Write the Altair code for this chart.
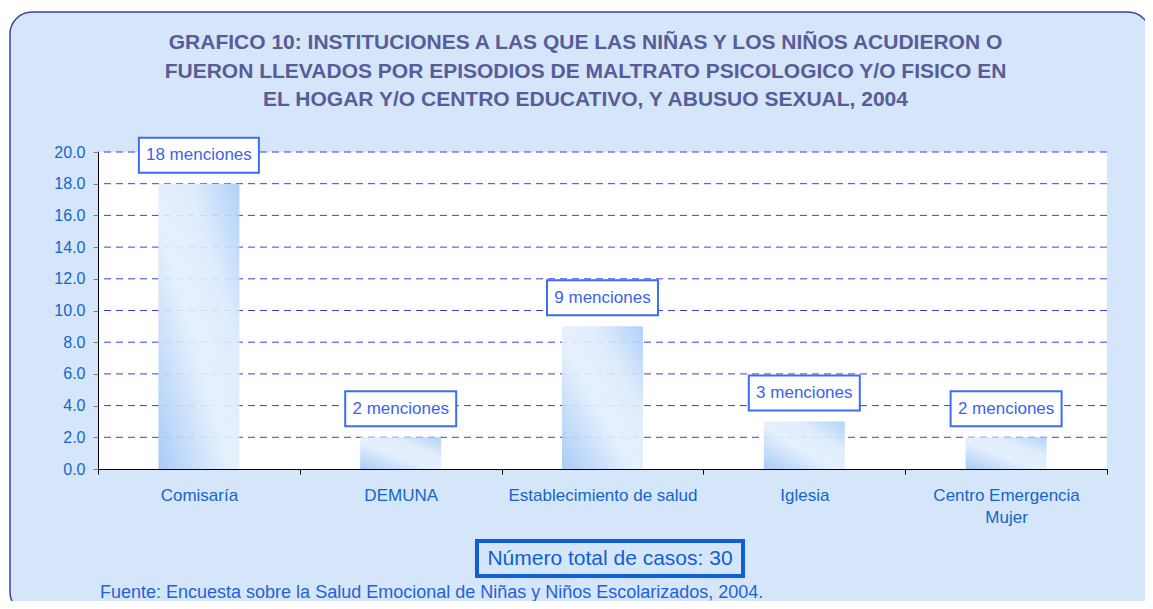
import altair as alt
import pandas as pd

categories = ["Comisaría", "DEMUNA", "Establecimiento de salud", "Iglesia", "Centro Emergencia Mujer"]
values = [18, 2, 9, 3, 2]
mentions = ["18 menciones", "2 menciones", "9 menciones", "3 menciones", "2 menciones"]
grid_ticks = [2, 4, 6, 8, 10, 12, 14, 16, 18, 20]
axis_ticks = [0, 2, 4, 6, 8, 10, 12, 14, 16, 18, 20]
title_lines = [
    "GRAFICO 10: INSTITUCIONES A LAS QUE LAS NIÑAS Y LOS NIÑOS ACUDIERON O",
    "FUERON LLEVADOS POR EPISODIOS DE MALTRATO PSICOLOGICO Y/O FISICO EN",
    "EL HOGAR Y/O CENTRO EDUCATIVO, Y ABUSUO SEXUAL, 2004",
]
total_text = "Número total de casos: 30"
source_text = "Fuente: Encuesta sobre la Salud Emocional de Niñas y Niños Escolarizados, 2004."

W, H = 1009, 317
FONT = "Liberation Sans"

df = pd.DataFrame({"cat": categories, "val": values, "lab": mentions})
df["n"] = df["lab"].str.len()
grid_df = pd.DataFrame({"t": grid_ticks})
one = pd.DataFrame({"a": [0]})

xscale = alt.Scale(domain=categories, paddingInner=0, paddingOuter=0)
yscale = alt.Scale(domain=[0, 20])

xaxis = alt.Axis(
    labelAngle=0, labelFontSize=17, labelColor="#1565c8", labelFont=FONT,
    labelPadding=13, labelLineHeight=22, labelLimit=400, labelOverlap=False,
    tickBand="extent", tickSize=5,
    tickColor="#000000", domainColor="#000000", grid=False, zindex=1,
    labelExpr="datum.value == 'Centro Emergencia Mujer' ? ['Centro Emergencia', 'Mujer'] : datum.label",
)
yaxis = alt.Axis(
    orient="left", values=axis_ticks, format=".1f", labelFontSize=16,
    labelOverlap=False, labelColor="#1565c8", labelFont=FONT, labelPadding=8,
    tickSize=5, tickColor="#808080", domainColor="#000000", grid=False, zindex=1,
)
xenc = alt.X("cat:N", scale=xscale, sort=categories, title=None, axis=xaxis)
yenc = alt.Y("val:Q", scale=yscale, title=None, axis=yaxis)

frame = alt.Chart(one).mark_rect(
    fill="#d6e6fa", stroke="#3f3f9e", strokeWidth=1.5, cornerRadius=22
).encode(
    x=alt.value(-88), x2=alt.value(1052), y=alt.value(-140), y2=alt.value(462)
)

plotbg = alt.Chart(one).mark_rect(fill="#ffffff").encode(
    x=alt.value(0), x2=alt.value(W), y=alt.value(0), y2=alt.value(H)
)

grid = alt.Chart(grid_df).mark_rule(
    color="#3c3cee", strokeWidth=1, strokeDash=[7, 5]
).encode(y=alt.Y("t:Q", scale=yscale, title=None, axis=yaxis))

grad = alt.Gradient(
    gradient="linear",
    stops=[
        alt.GradientStop(color="#9fc6f6", offset=0),
        alt.GradientStop(color="#e4effd", offset=0.45),
        alt.GradientStop(color="#dceafc", offset=0.7),
        alt.GradientStop(color="#a6ccf8", offset=1),
    ],
    x1=0, y1=1, x2=1, y2=0,
)

base = alt.Chart(df)
bars = base.mark_bar(size=81, color=grad, opacity=0.9).encode(x=xenc, y=yenc)

box_long = base.transform_filter("datum.n >= 12").mark_rect(
    width=120, fill="#ffffff", stroke="#3d6cf6", strokeWidth=2, yOffset=-46, y2Offset=-11
).encode(x=xenc, y=yenc, y2="val:Q")
box_short = base.transform_filter("datum.n < 12").mark_rect(
    width=111, fill="#ffffff", stroke="#3d6cf6", strokeWidth=2, yOffset=-46, y2Offset=-11
).encode(x=xenc, y=yenc, y2="val:Q")
box_text = base.mark_text(
    font=FONT, fontSize=17, color="#3b62f0", baseline="middle", dy=-28.5
).encode(x=xenc, y=yenc, text="lab:N")

title_layers = []
for line, ypos in zip(title_lines, [-109, -80.5, -52]):
    title_layers.append(
        alt.Chart(one).mark_text(
            font=FONT, fontSize=21, fontWeight="bold", color="#585c98",
            baseline="middle", align="center"
        ).encode(x=alt.value(487.5), y=alt.value(ypos), text=alt.value(line))
    )

total_box = alt.Chart(one).mark_rect(fill="#d6e6fa", stroke="#0d5fd6", strokeWidth=4).encode(
    x=alt.value(379), x2=alt.value(645), y=alt.value(389), y2=alt.value(424)
)
total = alt.Chart(one).mark_text(
    font=FONT, fontSize=21, color="#0d5fd6", baseline="middle", align="center"
).encode(x=alt.value(512), y=alt.value(406.5), text=alt.value(total_text))

source = alt.Chart(one).mark_text(
    font=FONT, fontSize=18, color="#1f62d8", baseline="alphabetic", align="left"
).encode(x=alt.value(2), y=alt.value(446), text=alt.value(source_text))

chart = alt.layer(
    frame, plotbg, grid, bars, box_long, box_short, box_text, *title_layers,
    total_box, total, source
).properties(
    width=W, height=H,
    autosize=alt.AutoSizeParams(type="none"),
    padding={"left": 90, "top": 144, "right": 38, "bottom": 132},
).configure_view(stroke=None).configure(background="#ffffff")

chart.save("out.html", embed_options={"renderer": "svg", "actions": False})
